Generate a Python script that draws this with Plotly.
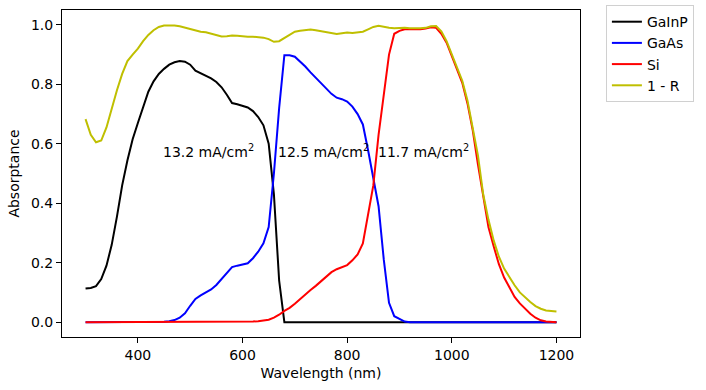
import plotly.graph_objects as go

wavelength = list(range(300, 1201, 10))

gainp = [0.113, 0.115, 0.121, 0.145, 0.19, 0.26, 0.355, 0.46, 0.544, 0.615,
         0.67, 0.725, 0.775, 0.81, 0.835, 0.852, 0.866, 0.874, 0.878, 0.876,
         0.866, 0.846, 0.838, 0.83, 0.82, 0.808, 0.79, 0.765, 0.737, 0.733,
         0.728, 0.722, 0.71, 0.69, 0.662, 0.6, 0.43, 0.14, 0.0] + [0.0] * 52

gaas = [0.0] * 15 + [0.001, 0.003, 0.007, 0.015, 0.03, 0.055, 0.078, 0.09, 0.1, 0.11,
                     0.125, 0.145, 0.167, 0.185, 0.19, 0.193, 0.198, 0.215, 0.237, 0.265,
                     0.32, 0.5, 0.72, 0.898, 0.898, 0.893, 0.878, 0.86, 0.84, 0.822,
                     0.805, 0.785, 0.768, 0.755, 0.75, 0.742, 0.725, 0.7, 0.665, 0.578,
                     0.48, 0.39, 0.21, 0.065, 0.02, 0.01, 0.002] + [0.0] * 29

si = [0.0] * 31 + [0.001, 0.002, 0.003, 0.005, 0.008, 0.015, 0.025, 0.038, 0.048, 0.062,
                   0.078, 0.093, 0.108, 0.122, 0.137, 0.153, 0.168, 0.178, 0.185, 0.192,
                   0.208, 0.228, 0.265, 0.36, 0.46, 0.63, 0.775, 0.9, 0.97, 0.98,
                   0.985, 0.985, 0.985, 0.985, 0.988, 0.992, 0.99, 0.97, 0.94, 0.895,
                   0.855, 0.805, 0.735, 0.645, 0.53, 0.42, 0.32, 0.255, 0.195, 0.15,
                   0.115, 0.085, 0.063, 0.045, 0.028, 0.015, 0.006, 0.002, 0.001, 0.0]

one_minus_r = [0.683, 0.63, 0.605, 0.611, 0.655, 0.72, 0.78, 0.835, 0.878, 0.9,
               0.92, 0.945, 0.966, 0.982, 0.993, 0.998, 0.999, 0.998, 0.995, 0.99,
               0.985, 0.98, 0.977, 0.975, 0.97, 0.965, 0.961, 0.962, 0.964, 0.963,
               0.961, 0.96, 0.96, 0.959, 0.957, 0.952, 0.943, 0.945, 0.956, 0.968,
               0.977, 0.98, 0.982, 0.984, 0.982, 0.979, 0.976, 0.972, 0.969, 0.972,
               0.974, 0.973, 0.976, 0.977, 0.985, 0.993, 0.997, 0.993, 0.99, 0.989,
               0.99, 0.99, 0.989, 0.988, 0.989, 0.99, 0.995, 0.996, 0.978, 0.945,
               0.9, 0.858, 0.812, 0.745, 0.655, 0.56, 0.43, 0.345, 0.275, 0.22,
               0.18, 0.15, 0.124, 0.1, 0.083, 0.068, 0.054, 0.045, 0.039, 0.037,
               0.036]

series_names = ["GaInP", "GaAs", "Si", "1 - R"]
series_colors = ["#000000", "#0000ff", "#ff0000", "#bfbf00"]

current_labels = ["13.2 mA/cm<sup>2</sup>", "12.5 mA/cm<sup>2</sup>", "11.7 mA/cm<sup>2</sup>"]
label_x = [450, 670, 860]
label_y = [0.568, 0.568, 0.568]

x_ticks = [400, 600, 800, 1000, 1200]
y_ticks = [0.0, 0.2, 0.4, 0.6, 0.8, 1.0]

FONT = "DejaVu Sans"
FS = 14

fig = go.Figure()
for name, color, vals in zip(series_names, series_colors, [gainp, gaas, si, one_minus_r]):
    fig.add_trace(go.Scatter(x=wavelength, y=vals, mode="lines", name=name,
                             line=dict(color=color, width=2)))

for txt, lx, ly in zip(current_labels, label_x, label_y):
    fig.add_annotation(x=lx, y=ly, text=txt, showarrow=False, xanchor="left",
                       yanchor="middle", xshift=-3, yshift=2,
                       font=dict(family=FONT, size=FS, color="black"))

axis_common = dict(showline=True, linecolor="black", linewidth=1, mirror=True,
                   ticks="outside", ticklen=5, tickwidth=1, tickcolor="black",
                   showgrid=False, zeroline=False, automargin=False,
                   tickfont=dict(family=FONT, size=FS, color="black"))

fig.update_xaxes(range=[255, 1245], tickvals=x_ticks,
                 title=dict(text="Wavelength (nm)", font=dict(family=FONT, size=FS, color="black"),
                            standoff=6),
                 **axis_common)
fig.update_yaxes(range=[-0.05, 1.05], tickvals=y_ticks, tickformat=".1f",
                 title=dict(text="Absorptance", font=dict(family=FONT, size=FS, color="black"),
                            standoff=8),
                 **axis_common)

fig.update_layout(
    width=706, height=390,
    margin=dict(l=62, r=126, t=10, b=53, autoexpand=False),
    paper_bgcolor="white", plot_bgcolor="white",
    font=dict(family=FONT, size=FS, color="black"),
    legend=dict(x=1.05, y=1.015, xanchor="left", yanchor="top",
                bordercolor="#d0d0d0", borderwidth=1, bgcolor="white",
                font=dict(family=FONT, size=FS, color="black"),
                itemwidth=30, tracegroupgap=0),
)

fig.write_html("out.html", config={"displayModeBar": False},
               post_script="document.body.style.margin='0';document.body.style.overflow='hidden';")
